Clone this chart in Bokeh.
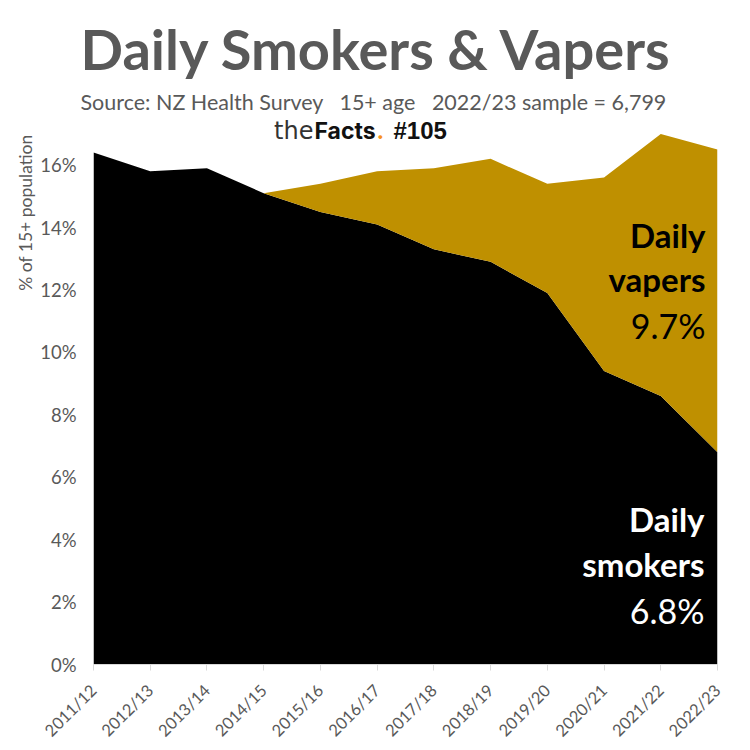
import math
from bokeh.plotting import figure
from bokeh.models import Range1d, FixedTicker, Label, Title
from bokeh.embed import file_html
from bokeh.resources import INLINE

# ---- data ----
years = ["2011/12", "2012/13", "2013/14", "2014/15", "2015/16", "2016/17",
         "2017/18", "2018/19", "2019/20", "2020/21", "2021/22", "2022/23"]
smokers = [16.4, 15.8, 15.9, 15.1, 14.5, 14.1, 13.3, 12.9, 11.9, 9.4, 8.6, 6.8]
vaper_years = ["2014/15", "2015/16", "2016/17", "2017/18", "2018/19",
               "2019/20", "2020/21", "2021/22", "2022/23"]
vapers = [0.0, 0.9, 1.7, 2.6, 3.3, 3.5, 6.2, 8.4, 9.7]
y_ticks = [0, 2, 4, 6, 8, 10, 12, 14, 16]
y_tick_labels = ["0%", "2%", "4%", "6%", "8%", "10%", "12%", "14%", "16%"]

xs = list(range(len(years)))
vx = [years.index(y) for y in vaper_years]
v_low = [smokers[i] for i in vx]
v_high = [smokers[i] + v for i, v in zip(vx, vapers)]

GRAY = "#595959"
GOLD = "#BF9000"
FONT = "Lato"
NB = "\u00a0"
FRAME_TOP = 115
YMAX = (665 - FRAME_TOP) / 31.27

W = H = 750
p = figure(width=W, height=H, output_backend="svg", toolbar_location=None,
           x_range=Range1d(0, len(years) - 1), y_range=Range1d(0, YMAX),
           min_border_left=93, min_border_right=W - 717, min_border_top=FRAME_TOP,
           min_border_bottom=H - 665, title=None)
p.outline_line_color = None
p.background_fill_color = "white"
p.border_fill_color = "white"
p.grid.visible = False

p.varea(x=xs, y1=[0] * len(xs), y2=smokers, fill_color="black")
p.varea(x=vx, y1=v_low, y2=v_high, fill_color=GOLD)

# x axis
p.xaxis.ticker = FixedTicker(ticks=xs)
p.xaxis.major_label_overrides = {i: y for i, y in enumerate(years)}
p.xaxis.major_label_orientation = math.pi / 4
p.xaxis.axis_line_color = "#D9D9D9"
p.xaxis.major_tick_line_color = "#D9D9D9"
p.xaxis.major_tick_in = 0
p.xaxis.major_tick_out = 6
p.xaxis.minor_tick_line_color = None
p.xaxis.major_label_text_font = FONT
p.xaxis.major_label_text_font_size = "16.5px"
p.xaxis.major_label_text_color = GRAY
p.xaxis.major_label_standoff = 17

# y axis
p.yaxis.ticker = FixedTicker(ticks=y_ticks)
p.yaxis.major_label_overrides = {t: l for t, l in zip(y_ticks, y_tick_labels)}
p.yaxis.axis_line_color = None
p.yaxis.major_tick_line_color = None
p.yaxis.minor_tick_line_color = None
p.yaxis.major_tick_out = 0
p.yaxis.major_tick_in = 0
p.yaxis.major_label_standoff = 17
p.yaxis.major_label_text_font = FONT
p.yaxis.major_label_text_font_size = "18.5px"
p.yaxis.major_label_text_color = GRAY

# headings as titles (stacked above: first added sits nearest the frame)
p.add_layout(Title(text="Source: NZ Health Survey" + NB * 3 + "15+ age" + NB * 3 +
                   "2022/23 sample = 6,799",
                   align="left", offset=-13, standoff=2, text_font=FONT,
                   text_font_size="21.5px", text_font_style="normal",
                   text_color=GRAY), "above")
p.add_layout(Title(text="Daily Smokers & Vapers", align="left", offset=-13,
                   standoff=8, text_font=FONT, text_font_size="56px",
                   text_font_style="bold", text_color=GRAY), "above")

# y-axis title, placed toward the top of the left side
p.add_layout(Title(text="% of 15+ population", align="right", offset=19,
                   standoff=4, text_font=FONT, text_font_size="17.5px",
                   text_font_style="normal", text_color=GRAY), "left")


def lab(text, x, y, size, color="black", style="normal", align="left",
        baseline="alphabetic", font=FONT):
    p.add_layout(Label(text=text, x=x, y=y, x_units="screen", y_units="screen",
                       text_font=font, text_font_size=size, text_color=color,
                       text_font_style=style, text_align=align,
                       text_baseline=baseline))


# logo (screen coords relative to frame bottom-left)
lab("the", 220, 534, "24px", "#333333", "normal", "right", font="DejaVu Sans")
lab("Facts", 221, 534, "23px", "#111111", "bold", "left", font="Inter")
lab(".", 283, 534, "23px", "#F7941D", "bold", "left", font="Inter")
lab("#105", 300, 534, "24px", "#111111", "bold", "left", font="Liberation Sans")

# in-plot labels
lab("Daily", 612, 430, "33px", "black", "bold", "right")
lab("vapers", 612, 386, "33px", "black", "bold", "right")
lab("9.7%", 612, 339, "34px", "black", "normal", "right")
lab("Daily", 611, 146, "33px", "white", "bold", "right")
lab("smokers", 611, 101, "33px", "white", "bold", "right")
lab("6.8%", 611, 54, "34px", "white", "normal", "right")

open("out.html", "w").write(file_html(p, INLINE))
